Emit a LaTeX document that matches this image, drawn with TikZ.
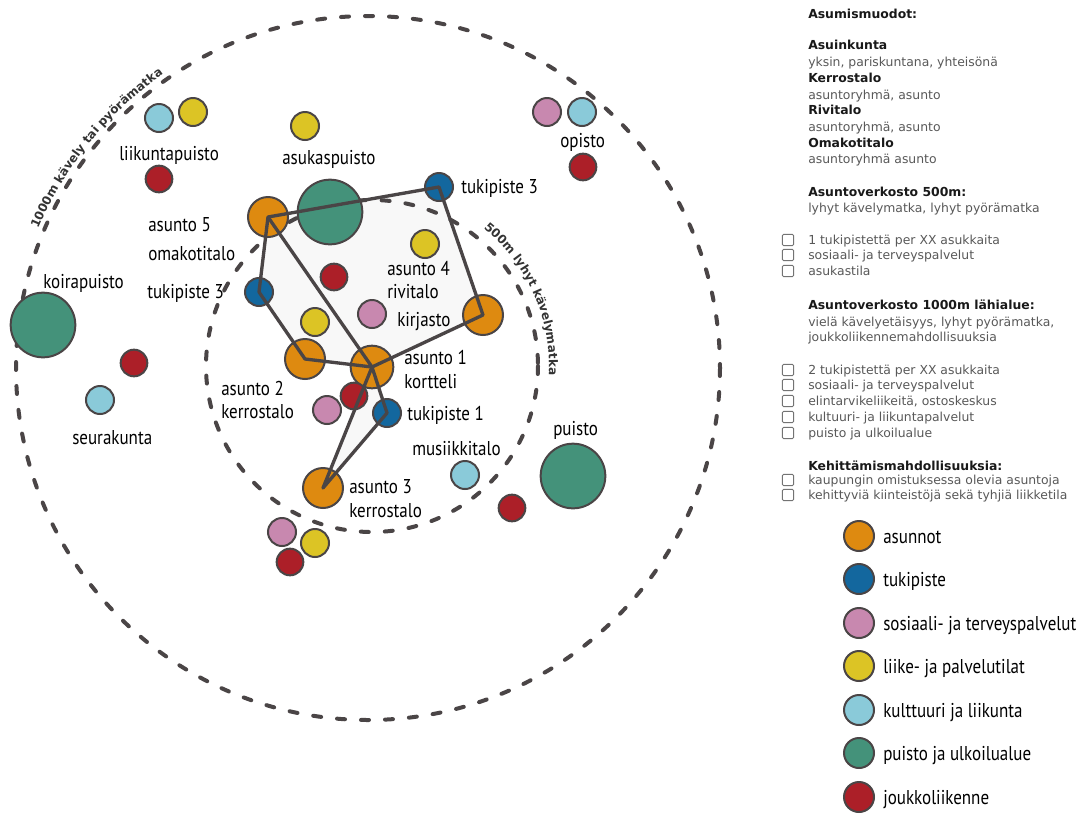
\documentclass[tikz,border=0pt]{standalone}
\usepackage{fontspec}
\usetikzlibrary{decorations.text}
\newfontfamily\labfont{PT Sans}[FakeStretch=0.85]
\newfontfamily\vsans{DejaVu Sans}
\newcommand\pathfnt{\vsans\bfseries\fontsize{9}{10}\selectfont}
\definecolor{cOr}{HTML}{DE8A10}
\definecolor{cBl}{HTML}{13679E}
\definecolor{cPk}{HTML}{C888AF}
\definecolor{cYe}{HTML}{DCC425}
\definecolor{cLb}{HTML}{8ACAD9}
\definecolor{cGr}{HTML}{44927A}
\definecolor{cRd}{HTML}{AC1F28}
\definecolor{cSt}{HTML}{4A4546}
\definecolor{cPoly}{HTML}{F8F8F8}
\definecolor{cTxt}{HTML}{333333}
\tikzset{
  dot/.style={circle, draw=cSt, line width=1.5pt, inner sep=0pt},
  sm/.style={dot, minimum size=21pt},
  rdd/.style={dot, minimum size=20pt, fill=cRd},
  md/.style={dot, minimum size=30pt, fill=cOr},
  bg/.style={dot, minimum size=48.5pt, fill=cGr},
  lg/.style={dot, minimum size=22.5pt},
  lab/.style={inner sep=0pt, anchor=base west, font=\labfont\fontsize{15}{18}\selectfont},
  info/.style={inner sep=0pt, anchor=base west, font=\vsans\fontsize{9.3}{10}\selectfont, text=black!65},
  infob/.style={info, font=\vsans\bfseries\fontsize{9.3}{10}\selectfont, text=black!90},
  cbox/.style={draw=black!55, line width=0.7pt, rounded corners=1pt, minimum size=8.5pt, inner sep=0pt},
  ring/.style={draw=cSt, line width=3pt, line cap=round, dash pattern=on 6pt off 12pt},
  link/.style={draw=cSt, line width=2.5pt, line join=round},
  area/.style={fill=cPoly},
}
\begin{document}
\begin{tikzpicture}[x=0.75pt, y=-0.75pt]
\useasboundingbox (0,0) rectangle (1086,815);
\fill[white] (0,0) rectangle (1086,815);
% centres
\coordinate (outerc) at (368,368);
\coordinate (innerc) at (372,366);
\coordinate (pa5) at (268,217);
\coordinate (pt3a) at (439,187);
\coordinate (pkir) at (483,315);
\coordinate (pa1) at (372,367);
\coordinate (pa2) at (305,359);
\coordinate (pt3b) at (259,292);
\coordinate (pt1) at (387,413);
\coordinate (pa3) at (323,488);
% areas
\fill[area] (pa5) -- (pt3a) -- (pkir) -- (pa1) -- (pa2) -- (pt3b) -- cycle;
\fill[area] (pa1) -- (pt1) -- (pa3) -- cycle;
% rings
\draw[ring] (outerc) circle[radius=352];
\draw[ring] (innerc) circle[radius=166];
\path[decorate, decoration={text along path, text align=center, text color=cTxt,
  text={|\pathfnt|1000m kävely tai pyörämatka}}]
  (outerc) ++(-170:358) arc[start angle=-170, end angle=-112, radius=358];
\path[decorate, decoration={text along path, text align=center, text color=cTxt,
  text={|\pathfnt|500m lyhyt kävelymatka}}]
  (innerc) ++(-60:177) arc[start angle=-60, end angle=12, radius=177];
% circles
\node[sm, fill=cLb] (lb1) at (159,118) {};
\node[sm, fill=cYe] (ye1) at (193,112) {};
\node[rdd] (rd1) at (159,179) {};
\node[sm, fill=cYe] (ye2) at (305,126) {};
\node[bg] (gAsuk) at (330,212) {};
\node[md] (a5) at (pa5) {};
\node[sm, fill=cBl] (t3a) at (pt3a) {};
\node[sm, fill=cBl] (t3b) at (pt3b) {};
\node[rdd] (rd2) at (334,277) {};
\node[sm, fill=cYe] (ye3) at (425,244) {};
\node[sm, fill=cPk] (pk1) at (372,314) {};
\node[md] (kir) at (pkir) {};
\node[sm, fill=cYe] (ye4) at (315,322) {};
\node[md] (a2) at (pa2) {};
\node[md, minimum size=32pt] (a1) at (pa1) {};
\node[rdd] (rd3) at (354,396) {};
\node[sm, fill=cPk] (pk2) at (327,410) {};
\node[sm, fill=cBl] (t1) at (pt1) {};
\node[md] (a3) at (pa3) {};
\node[sm, fill=cLb] (lb2) at (465,475) {};
\node[rdd] (rd4) at (512,508) {};
\node[sm, fill=cPk] (pk3) at (282,532) {};
\node[sm, fill=cYe] (ye5) at (315,543) {};
\node[rdd] (rd5) at (290,562) {};
\node[bg] (gPu) at (573,476) {};
\node[bg] (gKo) at (43,325) {};
\node[rdd] (rd6) at (134,363) {};
\node[sm, fill=cLb] (lb3) at (100,400) {};
\node[sm, fill=cPk] (pk4) at (547,112) {};
\node[sm, fill=cLb] (lb4) at (582,112) {};
\node[rdd] (rd7) at (583,167) {};
% links
\draw[link] (a5.center) -- (t3a.center) -- (kir.center) -- (a1.center) -- (a2.center) -- (t3b.center) -- cycle;
\draw[link] (a5.center) -- (a1.center);
\draw[link] (a1.center) -- (t1.center) -- (a3.center) -- cycle;
% labels
\node[lab] (liik) at (119,160) {liikuntapuisto};
\node[lab] (asuk) at (282,164) {asukaspuisto};
\node[lab] (la5a) at (148,231) {asunto 5};
\node[lab] (la5b) at (148,260) {omakotitalo};
\node[lab] (lt3b) at (147,298) {tukipiste 3};
\node[lab] (lt3a) at (461,193) {tukipiste 3};
\node[lab] (la4a) at (387,275) {asunto 4};
\node[lab] (la4b) at (387,298) {rivitalo};
\node[lab] (lkir) at (397,326) {kirjasto};
\node[lab] (la1a) at (404,364) {asunto 1};
\node[lab] (la1b) at (404,388) {kortteli};
\node[lab] (la2a) at (221,395) {asunto 2};
\node[lab] (la2b) at (221,418) {kerrostalo};
\node[lab] (lt1) at (407,420) {tukipiste 1};
\node[lab] (lmus) at (412,455) {musiikkitalo};
\node[lab] (la3a) at (349,493) {asunto 3};
\node[lab] (la3b) at (349,517) {kerrostalo};
\node[lab] (lpu) at (553,435) {puisto};
\node[lab] (lko) at (43,288) {koirapuisto};
\node[lab] (lseu) at (72,444) {seurakunta};
\node[lab] (lop) at (560,147) {opisto};
% info text
\node[infob] (i1) at (808,18) {Asumismuodot:};
\node[infob] (i2) at (808,49) {Asuinkunta};
\node[info] (i3) at (808,66) {yksin, pariskuntana, yhteisönä};
\node[infob] (i4) at (808,82) {Kerrostalo};
\node[info] (i5) at (808,99) {asuntoryhmä, asunto};
\node[infob] (i6) at (808,114) {Rivitalo};
\node[info] (i7) at (808,131) {asuntoryhmä, asunto};
\node[infob] (i8) at (808,147) {Omakotitalo};
\node[info] (i9) at (808,163) {asuntoryhmä asunto};
\node[infob] (i10) at (808,196) {Asuntoverkosto 500m:};
\node[info] (i11) at (808,212) {lyhyt kävelymatka, lyhyt pyörämatka};
\node[info] (i12) at (808,244) {1 tukipistettä per XX asukkaita};
\node[info] (i13) at (808,259) {sosiaali- ja terveyspalvelut};
\node[info] (i14) at (808,275) {asukastila};
\node[infob] (i15) at (808,309) {Asuntoverkosto 1000m lähialue:};
\node[info] (i16) at (808,326) {vielä kävelyetäisyys, lyhyt pyörämatka,};
\node[info] (i17) at (808,341) {joukkoliikennemahdollisuuksia};
\node[info] (i18) at (808,374) {2 tukipistettä per XX asukkaita};
\node[info] (i19) at (808,389) {sosiaali- ja terveyspalvelut};
\node[info] (i20) at (808,405) {elintarvikeliikeitä, ostoskeskus};
\node[info] (i21) at (808,421) {kultuuri- ja liikuntapalvelut};
\node[info] (i22) at (808,437) {puisto ja ulkoilualue};
\node[infob] (i23) at (808,470) {Kehittämismahdollisuuksia:};
\node[info] (i24) at (808,484) {kaupungin omistuksessa olevia asuntoja};
\node[info] (i25) at (808,499) {kehittyviä kiinteistöjä sekä tyhjiä liikketila};
% checkboxes
\node[cbox] (cb1) at (788,240) {};
\node[cbox] (cb2) at (788,255) {};
\node[cbox] (cb3) at (788,271) {};
\node[cbox] (cb4) at (788,370) {};
\node[cbox] (cb5) at (788,385) {};
\node[cbox] (cb6) at (788,401) {};
\node[cbox] (cb7) at (788,417) {};
\node[cbox] (cb8) at (788,433) {};
\node[cbox] (cb9) at (788,480) {};
\node[cbox] (cb10) at (788,495) {};
% legend
\node[lg, fill=cOr] (k1) at (859,536) {};
\node[lg, fill=cBl] (k2) at (859,579) {};
\node[lg, fill=cPk] (k3) at (859,623) {};
\node[lg, fill=cYe] (k4) at (859,666) {};
\node[lg, fill=cLb] (k5) at (859,710) {};
\node[lg, fill=cGr] (k6) at (859,753) {};
\node[lg, fill=cRd] (k7) at (859,797) {};
\node[lab] (kl1) at (883,543) {asunnot};
\node[lab] (kl2) at (883,586) {tukipiste};
\node[lab] (kl3) at (883,630) {sosiaali- ja terveyspalvelut};
\node[lab] (kl4) at (883,673) {liike- ja palvelutilat};
\node[lab] (kl5) at (883,717) {kulttuuri ja liikunta};
\node[lab] (kl6) at (883,760) {puisto ja ulkoilualue};
\node[lab] (kl7) at (883,804) {joukkoliikenne};
\end{tikzpicture}
\end{document}
